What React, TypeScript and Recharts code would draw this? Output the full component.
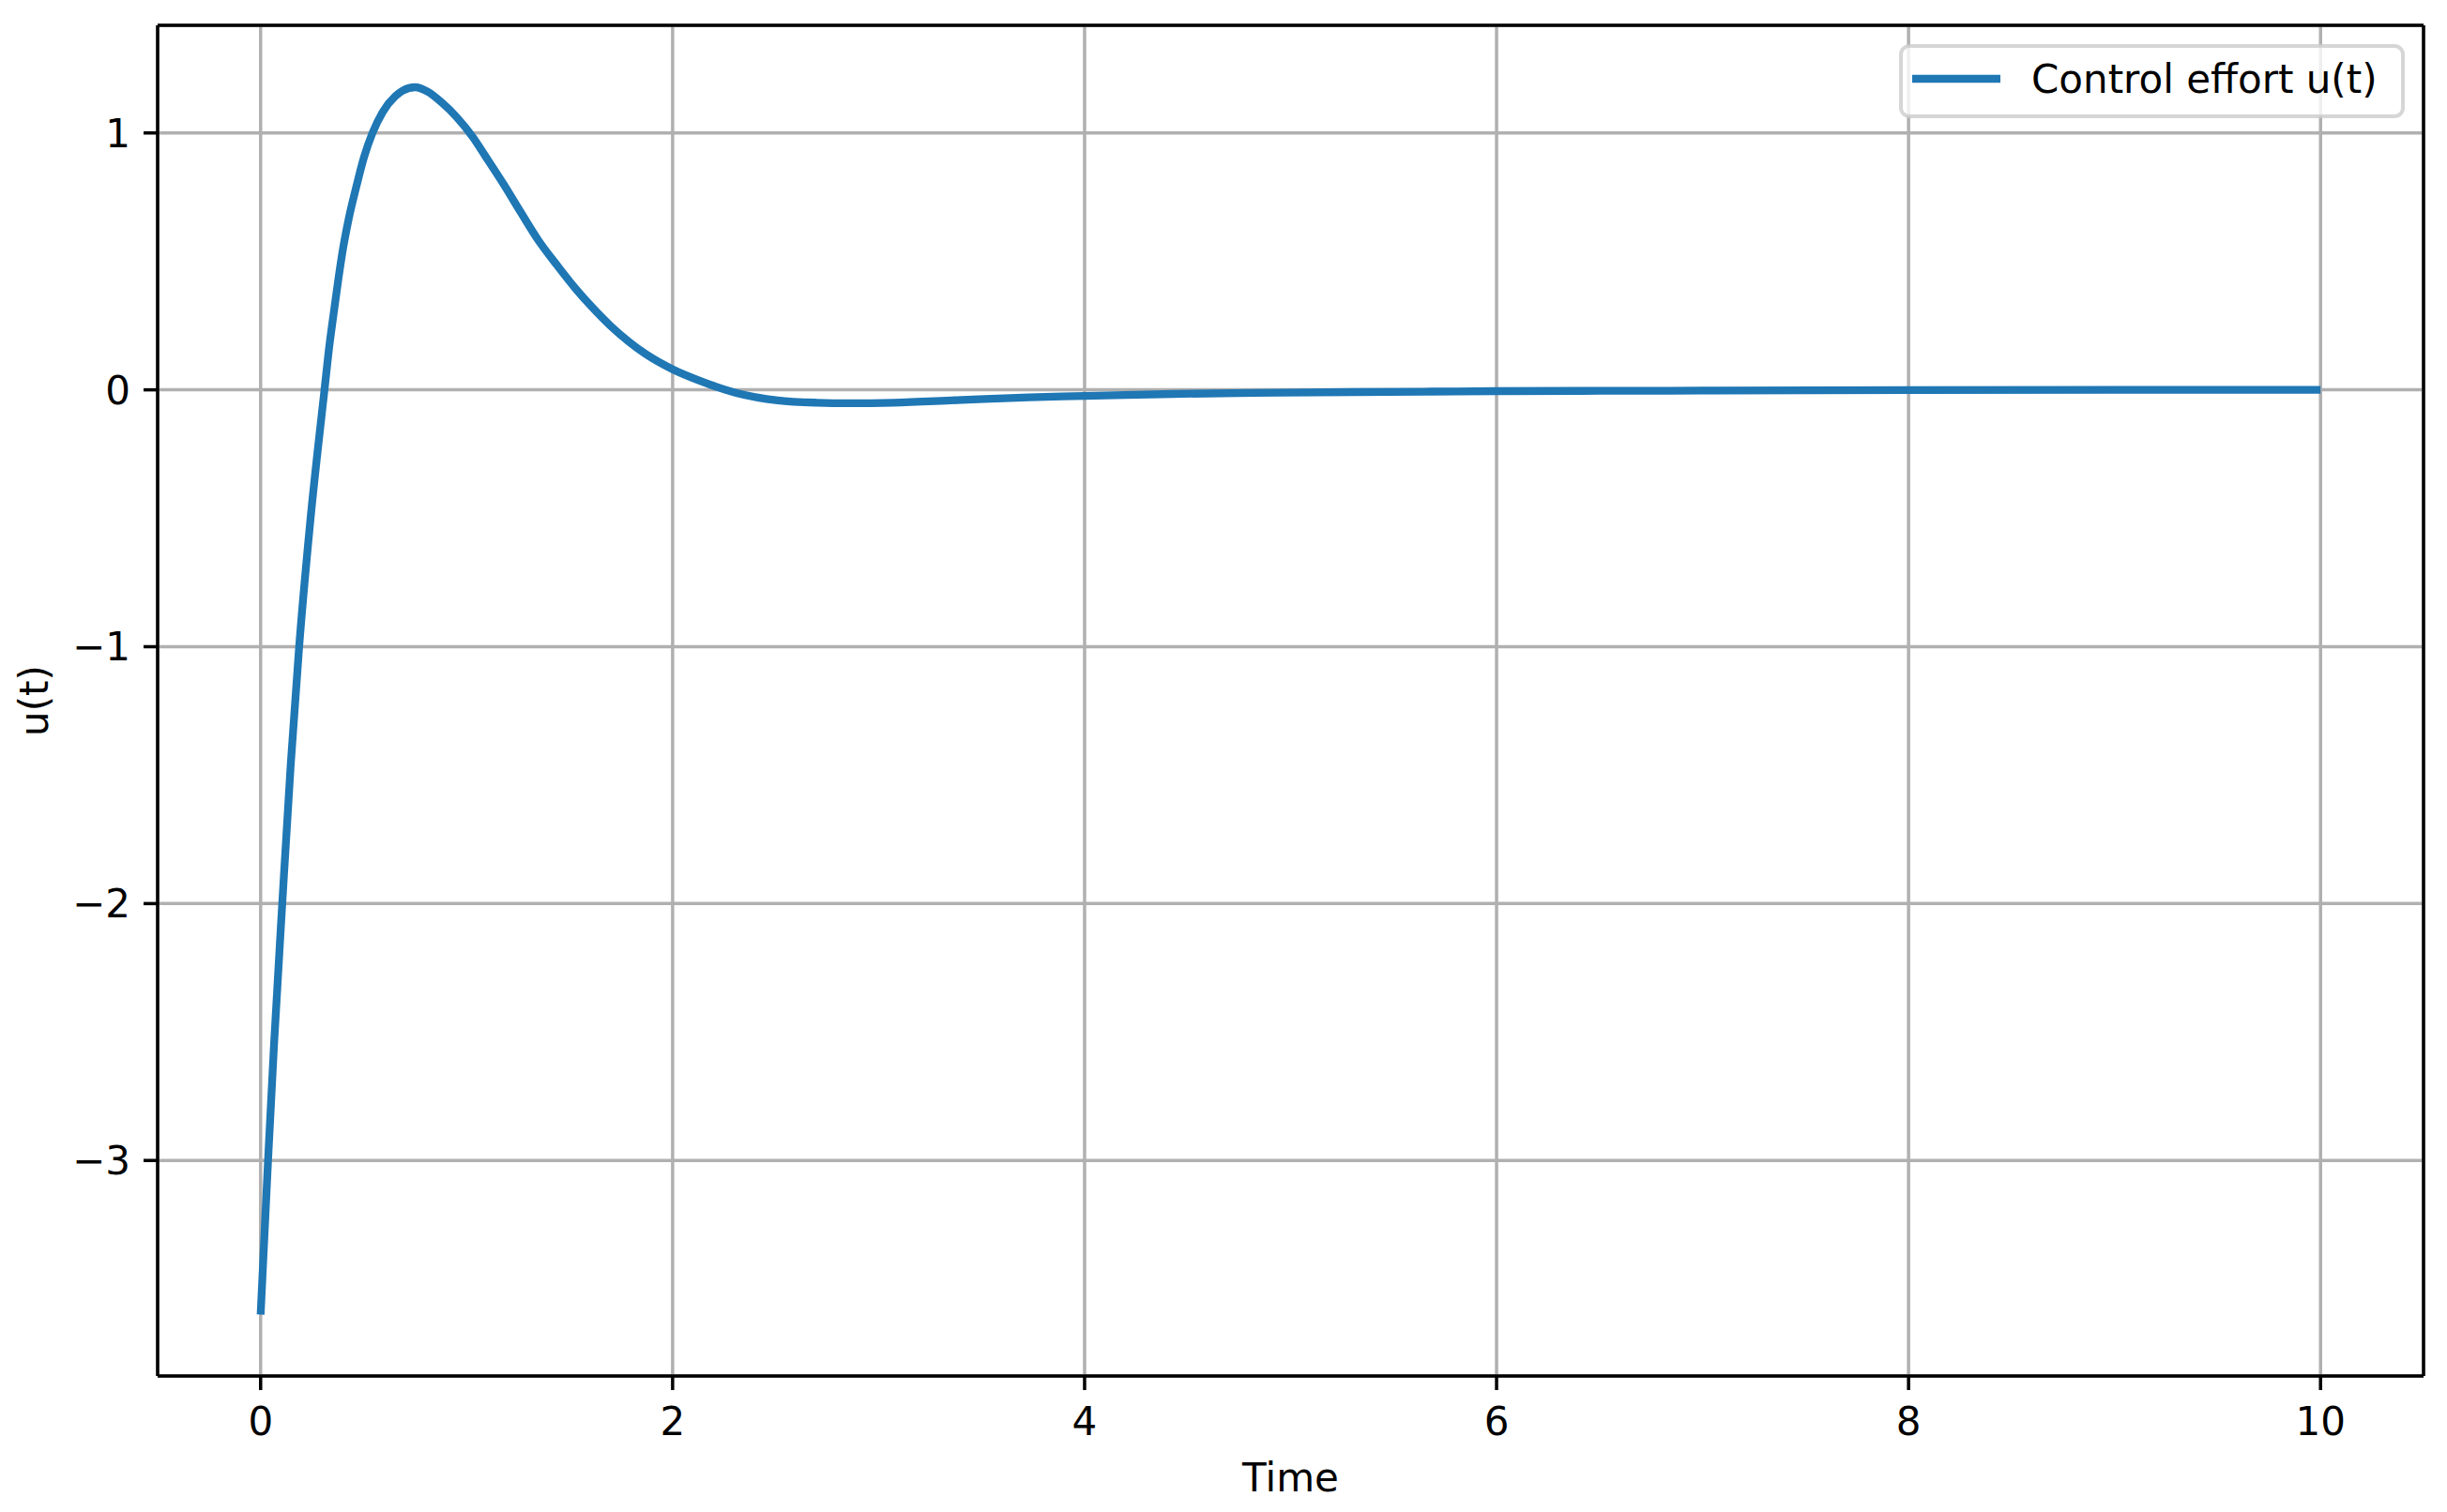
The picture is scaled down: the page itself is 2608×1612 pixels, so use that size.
import { LineChart, Line, XAxis, YAxis, CartesianGrid } from "recharts"

// time samples (s) and control effort
const times = [
  0, 0.036, 0.065, 0.105, 0.146, 0.187, 0.24, 0.31, 0.335, 0.355, 0.376, 0.399, 0.428, 0.464, 0.502,
  0.543, 0.593, 0.654, 0.69, 0.75, 0.81, 0.88, 0.95, 1.03, 1.09, 1.18, 1.26, 1.35, 1.44, 1.53, 1.61,
  1.7, 1.79, 1.87, 2.0, 2.14, 2.31, 2.51, 2.7, 2.86, 3.07, 3.38, 3.73, 4.0, 4.43, 4.95, 5.65, 6.0, 6.5,
  7.0, 8.0, 9.0, 10.0,
]
const effort = [
  -3.6, -3.0, -2.55, -2.0, -1.46, -1.0, -0.52, 0.0, 0.18, 0.3, 0.423, 0.545, 0.667, 0.789, 0.906,
  1.0, 1.082, 1.143, 1.165, 1.178, 1.161, 1.118, 1.063, 0.984, 0.911, 0.8, 0.695, 0.58, 0.484, 0.393,
  0.321, 0.248, 0.186, 0.139, 0.08, 0.033, -0.012, -0.041, -0.05, -0.052, -0.05, -0.04, -0.029, -0.024,
  -0.016, -0.011, -0.007, -0.005, -0.004, -0.003, -0.001, 0, 0,
]
const xTicks = [0, 2, 4, 6, 8, 10]
const yTicks = [-3, -2, -1, 0, 1]
const seriesName = "Control effort u(t)"

const data = times.map((t, i) => ({ t, u: effort[i] }))

const font = "DejaVu Sans"
const fmt = (v: number) => (v < 0 ? "\u2212" + Math.abs(v) : String(v))

// matplotlib-style legend box drawn on top of the chart
function LegendBox() {
  return (
    <svg width={540} height={80} style={{ position: "absolute", left: 2024, top: 47 }}>
      <rect x={2} y={2} width={535} height={75} rx={9} fill="rgba(255,255,255,0.8)" stroke="rgba(204,204,204,0.8)" strokeWidth={4} />
      <line x1={14} x2={108} y1={37} y2={37} stroke="#1f77b4" strokeWidth={8.3} />
      <text x={141} y={52} fontFamily={font} fontSize={42} fill="#000">{seriesName}</text>
    </svg>
  )
}

export default function App() {
  const tickStyle = { fontFamily: font, fontSize: 42, fill: "#000" }
  return (
    <div style={{ position: "relative", width: 2608, height: 1612 }}>
      <style>{`body{margin:0}`}</style>
      <LineChart width={2608} height={1612} data={data} margin={{ top: 0, right: 0, left: 0, bottom: 0 }}>
        <CartesianGrid stroke="#b0b0b0" strokeWidth={3.5} />
        <XAxis
          dataKey="t"
          type="number"
          domain={[-0.5, 10.5]}
          ticks={xTicks}
          tickFormatter={fmt}
          height={145}
          stroke="#000"
          strokeWidth={3.5}
          tickSize={15}
          tickMargin={18}
          tick={tickStyle}
          tickLine={{ stroke: "#000", strokeWidth: 3.5 }}
          label={{
            content: ({ viewBox }: any) => (
              <text x={viewBox.x + viewBox.width / 2} y={viewBox.y + 123} textAnchor="middle" fontFamily={font} fontSize={42} fill="#000">
                Time
              </text>
            ),
          }}
        />
        <XAxis xAxisId="top" orientation="top" type="number" domain={[-0.5, 10.5]} height={27} tick={false} tickLine={false} stroke="#000" strokeWidth={3.5} />
        <YAxis
          type="number"
          domain={[-3.839, 1.419]}
          ticks={yTicks}
          tickFormatter={fmt}
          width={168}
          stroke="#000"
          strokeWidth={3.5}
          tickSize={15}
          tickMargin={14}
          tick={tickStyle}
          tickLine={{ stroke: "#000", strokeWidth: 3.5 }}
          label={{
            content: ({ viewBox }: any) => {
              const cy = viewBox.y + viewBox.height / 2
              return (
                <text x={36} y={cy} transform={`rotate(-90 36 ${cy})`} textAnchor="middle" dominantBaseline="central" fontFamily={font} fontSize={42} fill="#000">
                  u(t)
                </text>
              )
            },
          }}
        />
        <YAxis yAxisId="right" orientation="right" type="number" domain={[-3.839, 1.419]} width={25} tick={false} tickLine={false} stroke="#000" strokeWidth={3.5} />
        <Line dataKey="u" name={seriesName} type="monotone" stroke="#1f77b4" strokeWidth={8.3} dot={false} isAnimationActive={false} />
      </LineChart>
      <LegendBox />
    </div>
  )
}
